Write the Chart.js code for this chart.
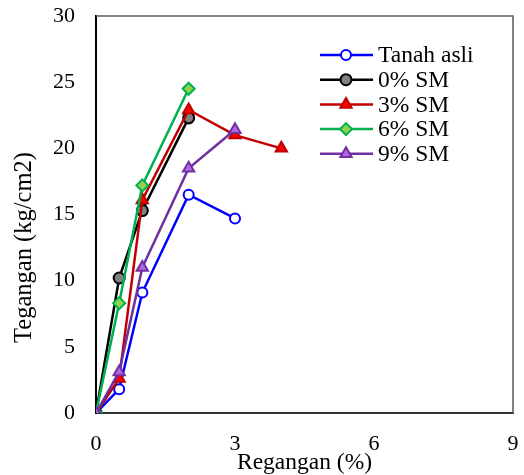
<!DOCTYPE html>
<html>
<head>
<meta charset="utf-8">
<script src="https://cdn.jsdelivr.net/npm/chart.js@4.4.1/dist/chart.umd.min.js"></script>
<style>
  body { margin: 0; background: #fff; }
  #wrap { width: 524px; height: 475px; }
</style>
</head>
<body>
<div id="wrap"><canvas id="myChart"></canvas></div>
<script>
let seriesNames = ['Tanah asli', '0% SM', '3% SM', '6% SM', '9% SM'];
let xTanah = [0, 0.5, 1, 2, 3];
let yTanah = [0, 1.8, 9.1, 16.5, 14.7];
let x0 = [0, 0.5, 1, 2];
let y0 = [0, 10.2, 15.3, 22.3];
let x3 = [0, 0.5, 1, 2, 3, 4];
let y3 = [0, 2.6, 16.1, 22.9, 21.0, 20.0];
let x6 = [0, 0.5, 1, 2];
let y6 = [0, 8.3, 17.2, 24.5];
let x9 = [0, 0.5, 1, 2, 3];
let y9 = [0, 3.1, 11.0, 18.5, 21.4];
let xTicks = [0, 3, 6, 9];

let lineColors = ['#0000ff', '#000000', '#c00000', '#00b050', '#7030a0'];
let fillColors = ['#ffffff', '#808080', '#ff0000', '#92d050', '#b266e6'];
let shapes = ['circle', 'circle', 'triangle', 'rectRot', 'triangle'];
let radii = [5, 5.5, 6.5, 6, 6.5];

let fontFam = '"Liberation Serif", "Times New Roman", serif';

function pts(xs, ys) {
  return xs.map((x, i) => ({ x: x, y: ys[i] }));
}

let allX = [xTanah, x0, x3, x6, x9];
let allY = [yTanah, y0, y3, y6, y9];

let datasets = seriesNames.map((name, i) => ({
  label: name,
  data: pts(allX[i], allY[i]),
  borderColor: lineColors[i],
  backgroundColor: fillColors[i],
  pointBackgroundColor: fillColors[i],
  pointBorderColor: lineColors[i],
  pointStyle: shapes[i],
  pointRadius: radii[i],
  pointBorderWidth: 2,
  borderWidth: 2.5,
  tension: 0,
  order: 5 - i
}));

// frame on top/right, y title and the legend drawn by hand
let extras = {
  id: 'extras',
  afterDraw(chart) {
    let c = chart.ctx;
    let a = chart.chartArea;
    c.save();
    c.strokeStyle = '#595959';
    c.lineWidth = 1.5;
    c.beginPath();
    c.moveTo(a.left, a.top);
    c.lineTo(a.right, a.top);
    c.lineTo(a.right, a.bottom);
    c.stroke();

    c.fillStyle = '#000';
    c.font = '24.5px ' + fontFam;
    c.textAlign = 'center';
    c.textBaseline = 'middle';
    c.translate(25, 247.5);
    c.rotate(-Math.PI / 2);
    c.fillText('Tegangan (kg/cm2)', 0, 0);
    c.restore();

    c.save();
    c.font = '23.5px ' + fontFam;
    c.textBaseline = 'middle';
    c.textAlign = 'left';
    seriesNames.forEach((name, i) => {
      let y = 55 + i * 24.7;
      c.strokeStyle = lineColors[i];
      c.lineWidth = 2.5;
      c.beginPath();
      c.moveTo(320, y);
      c.lineTo(373, y);
      c.stroke();
      c.fillStyle = fillColors[i];
      c.lineWidth = 2;
      Chart.helpers.drawPoint(c, { pointStyle: shapes[i], radius: radii[i], rotation: 0, borderWidth: 2 }, 346, y);
      c.fillStyle = '#000';
      c.fillText(name, 378, y + 1);
    });
    c.restore();
  }
};

function noOverhang(scale) {
  scale.paddingTop = 0;
  scale.paddingBottom = 0;
  scale.paddingLeft = 0;
  scale.paddingRight = 0;
}

let ctx = document.getElementById('myChart').getContext('2d');
let myChart = new Chart(ctx, {
  type: 'line',
  data: { datasets: datasets },
  plugins: [extras],
  options: {
    responsive: true,
    maintainAspectRatio: false,
    animation: false,
    layout: { padding: { top: 16, right: 11, left: 0, bottom: 0 } },
    plugins: {
      legend: { display: false },
      tooltip: { enabled: false }
    },
    scales: {
      x: {
        type: 'linear',
        min: 0,
        max: 9,
        afterBuildTicks: (scale) => {
          scale.ticks = xTicks.map(v => ({ value: v }));
        },
        afterFit: (scale) => { scale.height = 62; noOverhang(scale); },
        grid: { display: false, drawTicks: true, tickLength: 6, tickColor: '#333', tickWidth: 1.5 },
        border: { color: '#333', width: 2 },
        ticks: { color: '#000', padding: 12, font: { family: fontFam, size: 22 } },
        title: {
          display: true,
          text: 'Regangan (%)',
          color: '#000',
          padding: { top: 0, bottom: -2 },
          font: { family: fontFam, size: 23.5 }
        }
      },
      y: {
        min: 0,
        max: 30,
        ticks: { stepSize: 5, color: '#000', padding: 15, font: { family: fontFam, size: 22 } },
        afterFit: (scale) => { scale.width = 96; noOverhang(scale); },
        grid: { display: false, drawTicks: true, tickLength: 6, tickColor: '#000', tickWidth: 1.5 },
        border: { color: '#000', width: 2 }
      }
    }
  }
});
</script>
</body>
</html>
